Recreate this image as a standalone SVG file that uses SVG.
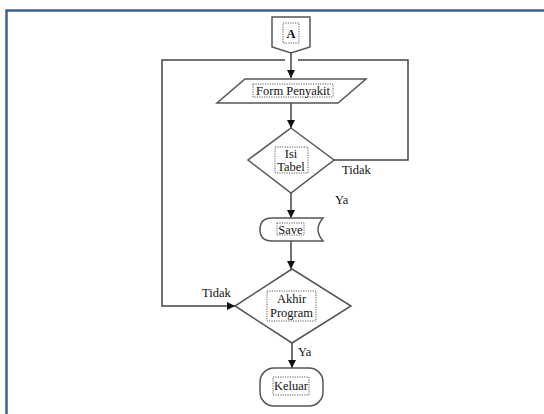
<svg xmlns="http://www.w3.org/2000/svg" width="544" height="414" viewBox="0 0 544 414">
<defs>
<marker id="ah" viewBox="0 0 10 10" refX="10" refY="5" markerWidth="8" markerHeight="8" markerUnits="userSpaceOnUse" orient="auto">
<path d="M0,0 L10,5 L0,10 z" fill="#111"/>
</marker>
</defs>
<style>
.sh{fill:#fff;stroke:#555;stroke-width:1.5}
.ln{fill:none;stroke:#444;stroke-width:1.5}
.tb{fill:none;stroke:#333;stroke-width:0.8;stroke-dasharray:1.2 1.2}
.t{font-family:"Liberation Serif",serif;font-size:12.5px;fill:#111}
.c{text-anchor:middle}
</style>
<rect x="6.5" y="10.5" width="600" height="500" fill="#fff" stroke="#3b5f95" stroke-width="2.5"/>
<g id="connectors">
<line class="ln" x1="291" y1="53" x2="291" y2="78" marker-end="url(#ah)"/>
<line class="ln" x1="291" y1="103" x2="291" y2="128" marker-end="url(#ah)"/>
<polyline class="ln" points="334,160 408,160 408,60 298,60"/>
<polyline class="ln" points="285,60 162,60 162,306 235,306" marker-end="url(#ah)"/>
<line class="ln" x1="291" y1="193" x2="291" y2="218" marker-end="url(#ah)"/>
<line class="ln" x1="291" y1="241" x2="291" y2="269" marker-end="url(#ah)"/>
<line class="ln" x1="292" y1="343" x2="292" y2="368" marker-end="url(#ah)"/>
<text class="t" x="342" y="174">Tidak</text>
<text class="t" x="335" y="204">Ya</text>
<text class="t" x="202" y="297">Tidak</text>
<text class="t" x="298" y="356">Ya</text>
</g>
<g id="nodeA">
<path class="sh" d="M272,17 H310 V47 L291,53 L272,47 Z"/>
<rect class="tb" x="283" y="23" width="16" height="20"/>
<text class="t c" x="291" y="38" font-weight="bold">A</text>
</g>
<g id="formPenyakit">
<path class="sh" d="M245,79 H366 L338,103 H217 Z"/>
<rect class="tb" x="253" y="84" width="80" height="13"/>
<text class="t c" x="293" y="95">Form Penyakit</text>
</g>
<g id="isiTabel">
<path class="sh" d="M291,128 L334,160 L291,193 L248,160 Z"/>
<rect class="tb" x="275" y="147" width="33" height="26"/>
<text class="t c" x="291" y="158">Isi</text>
<text class="t c" x="291" y="171">Tabel</text>
</g>
<g id="save">
<path class="sh" d="M272,218 H323 Q313,229.5 323,241 H272 Q260,241 260,229.5 Q260,218 272,218 Z"/>
<rect class="tb" x="277" y="223" width="27" height="12"/>
<text class="t c" x="290.5" y="233.5">Save</text>
</g>
<g id="akhirProgram">
<path class="sh" d="M292,269 L351,306 L292,343 L235,306 Z"/>
<rect class="tb" x="267" y="291" width="49" height="30"/>
<text class="t c" x="291.5" y="303">Akhir</text>
<text class="t c" x="291.5" y="317">Program</text>
</g>
<g id="keluar">
<rect class="sh" x="260" y="368" width="63" height="38" rx="14"/>
<rect class="tb" x="273" y="377" width="36" height="18"/>
<text class="t c" x="291" y="390">Keluar</text>
</g>
</svg>
